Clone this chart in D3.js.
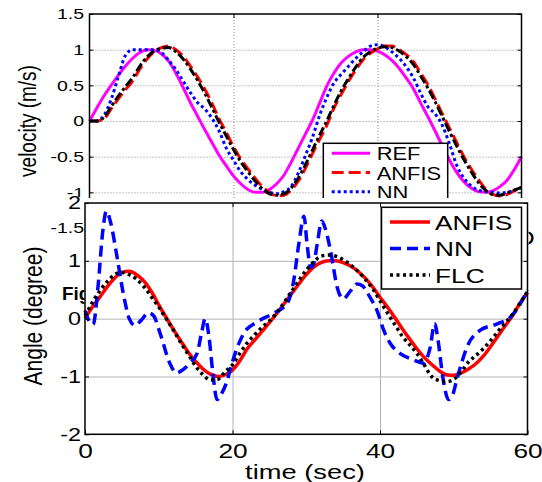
<!DOCTYPE html>
<html>
<head>
<meta charset="utf-8">
<script src="https://cdn.jsdelivr.net/npm/d3@7"></script>
<style>
  body { margin: 0; background: #fff; }
  svg { display: block; }
</style>
</head>
<body>
<div id="chart"></div>
<script>
// ---- data ----
const timeSec = [0,1,2,3,4,5,6,7,8,9,10,11,12,13,14,15,16,17,18,19,20,21,22,23,24,25,26,27,28,29,30,
  31,32,33,34,35,36,37,38,39,40,41,42,43,44,45,46,47,48,49,50,51,52,53,54,55,56,57,58,59,60];

// top panel: velocity (m/s)
const velRef = [0,0.18,0.35,0.5,0.64,0.77,0.88,0.96,1.0,0.99,0.94,0.84,0.67,0.47,0.26,0.07,-0.12,-0.3,-0.48,-0.63,-0.77,
  -0.88,-0.96,-1.0,-1.0,-0.96,-0.88,-0.76,-0.58,-0.38,-0.18,0.02,0.26,0.5,0.68,0.82,0.91,0.97,1.0,1.0,0.98,
  0.93,0.85,0.74,0.6,0.45,0.25,0.06,-0.14,-0.35,-0.55,-0.72,-0.85,-0.94,-0.99,-1.0,-0.98,-0.92,-0.83,-0.68,-0.5];
const velAnfis = [0,0,0.03,0.17,0.31,0.44,0.56,0.73,0.87,0.97,1.03,1.05,1.0,0.91,0.77,0.62,0.45,0.25,0.03,-0.16,-0.36,
  -0.53,-0.67,-0.8,-0.92,-1.0,-1.05,-1.04,-0.97,-0.84,-0.66,-0.45,-0.25,-0.05,0.19,0.38,0.56,0.72,0.86,0.95,1.01,
  1.05,1.05,1.0,0.93,0.83,0.67,0.51,0.31,0.1,-0.1,-0.3,-0.5,-0.67,-0.82,-0.95,-1.03,-1.05,-1.03,-0.98,-0.93];
const velNn = [0,0,0.08,0.3,0.62,0.92,1.0,1.0,1.0,1.0,0.96,0.85,0.72,0.56,0.4,0.26,0.17,0.04,-0.14,-0.38,-0.55,
  -0.71,-0.82,-0.9,-0.96,-1.0,-1.02,-0.99,-0.92,-0.73,-0.48,-0.22,0.09,0.34,0.54,0.66,0.77,0.88,0.97,1.05,1.07,
  1.04,0.97,0.88,0.76,0.6,0.39,0.2,0.1,-0.06,-0.32,-0.62,-0.8,-0.91,-0.97,-0.99,-1.0,-1.01,-1.0,-0.97,-0.93];
const velFlc = [0,0,0.05,0.2,0.35,0.48,0.61,0.77,0.9,0.98,1.02,1.03,0.97,0.87,0.73,0.57,0.39,0.19,-0.02,-0.21,-0.4,
  -0.57,-0.71,-0.84,-0.95,-1.02,-1.04,-1.02,-0.94,-0.8,-0.61,-0.4,-0.19,0.01,0.23,0.43,0.6,0.76,0.89,0.97,1.02,
  1.04,1.03,0.98,0.9,0.79,0.63,0.46,0.27,0.06,-0.15,-0.35,-0.54,-0.71,-0.86,-0.97,-1.03,-1.04,-1.01,-0.97,-0.93];

// bottom panel: angle (degree)
const angAnfis = [0,0.2,0.37,0.55,0.7,0.8,0.82,0.76,0.65,0.47,0.24,0.02,-0.19,-0.39,-0.58,-0.74,-0.87,-0.96,-1.0,-0.97,-0.89,
  -0.73,-0.52,-0.37,-0.22,-0.07,0.09,0.26,0.43,0.6,0.76,0.89,0.97,1.0,1.0,0.97,0.91,0.82,0.7,0.55,0.37,
  0.2,0.02,-0.17,-0.35,-0.52,-0.67,-0.79,-0.9,-0.97,-0.98,-0.94,-0.87,-0.78,-0.65,-0.48,-0.3,-0.12,0.06,0.27,0.45];
const angFlc = [0.05,0.28,0.48,0.64,0.76,0.8,0.76,0.68,0.55,0.38,0.2,0,-0.2,-0.42,-0.62,-0.82,-0.97,-1.06,-1.05,-0.92,-0.8,
  -0.6,-0.42,-0.28,-0.15,-0.04,0.1,0.28,0.47,0.66,0.84,0.98,1.08,1.1,1.08,1.02,0.93,0.82,0.68,0.52,0.31,
  0.1,-0.1,-0.3,-0.45,-0.6,-0.8,-1.0,-1.07,-1.09,-1.05,-0.92,-0.75,-0.64,-0.52,-0.38,-0.22,-0.07,0.08,0.27,0.47];
const nnTime = [0,0.6,1.1,1.8,2.4,2.9,3.5,4.3,5.2,6.0,6.8,7.6,8.6,9.3,10.2,11.5,12.4,13.3,14.2,15.2,
  15.8,16.3,16.8,17.3,17.9,18.5,19.2,19.8,20.5,21.5,23.3,25.5,27.4,28.3,29.0,29.7,30.1,30.6,31.0,31.5,
  32.1,32.6,33.3,34.2,35.0,36.0,36.9,37.6,38.6,39.6,40.5,41.4,42.7,44.5,45.9,46.8,47.4,47.9,48.5,49.3,
  49.9,50.4,51.1,51.8,53.6,55.9,57.7,59.0,60];
const angNn = [0.14,-0.05,-0.1,0.6,1.5,1.86,1.65,1.1,0.43,0,-0.12,-0.03,0.1,0.05,-0.26,-0.77,-0.94,-0.88,-0.77,-0.6,
  -0.25,0,-0.3,-0.9,-1.4,-1.3,-1.1,-0.83,-0.55,-0.26,-0.06,0.09,0.26,0.66,1.3,1.77,1.3,0.89,0.95,1.3,
  1.69,1.55,1.17,0.54,0.34,0.48,0.6,0.57,0.38,0.14,-0.2,-0.43,-0.6,-0.71,-0.77,-0.5,-0.09,-0.4,-1.0,-1.4,
  -1.3,-1.06,-0.75,-0.49,-0.2,-0.09,0.03,0.25,0.5];

const velTicks = [-1.5, -1, -0.5, 0, 0.5, 1, 1.5];
const velGrid = [-1, -0.5, 0, 0.5, 1];
const angTicks = [-2, -1, 0, 1, 2];
const angGrid = [-1, 0, 1];
const timeTicks = [0, 20, 40, 60];
const timeGrid = [20, 40];

const topLegend = ['REF', 'ANFIS', 'NN'];
const botLegend = ['ANFIS', 'NN', 'FLC'];

// ---- setup ----
const FONT = 'Arial, "Liberation Sans", sans-serif';
const W = 542, H = 482;

const svg = d3.select('#chart').append('svg')
  .attr('width', W)
  .attr('height', H);

// stretched text helper (figure text is wider than normal Arial)
function label(g, x, y, str, size, sx, opts = {}) {
  return g.append('text')
    .attr('transform', `translate(${x},${y}) scale(${sx},1)` + (opts.rotate ? ' rotate(-90)' : ''))
    .attr('font-family', FONT)
    .attr('font-size', size)
    .attr('font-weight', opts.bold ? 'bold' : 'normal')
    .attr('text-anchor', opts.anchor || 'start')
    .attr('fill', '#000')
    .text(str);
}

function pairs(xs, ys) {
  return xs.map((t, i) => [t, ys[i]]);
}

// ================= top panel =================
const xTop = d3.scaleLinear().domain([0, 60]).range([89.5, 521.5]);
const yTop = d3.scaleLinear().domain([-1.5, 1.5]).range([228, 14]);
const topW = xTop.range()[1] - xTop.range()[0];
const topH = yTop.range()[0] - yTop.range()[1];

const gTop = svg.append('g');

// gridlines (dotted)
gTop.append('g')
  .attr('transform', `translate(${xTop(0)},0)`)
  .call(d3.axisLeft(yTop).tickValues(velGrid).tickSize(-topW).tickFormat(''))
  .call(g => g.select('.domain').remove())
  .selectAll('line')
  .attr('stroke', '#8a8a8a').attr('stroke-width', 1).attr('stroke-dasharray', '1,2');

gTop.append('g')
  .attr('transform', `translate(0,${yTop(-1.5)})`)
  .call(d3.axisBottom(xTop).tickValues(timeGrid).tickSize(-topH).tickFormat(''))
  .call(g => g.select('.domain').remove())
  .selectAll('line')
  .attr('stroke', '#8a8a8a').attr('stroke-width', 1).attr('stroke-dasharray', '1,2');

const lineTop = d3.line()
  .x(d => xTop(d[0]))
  .y(d => yTop(d[1]))
  .curve(d3.curveMonotoneX);

const topSeries = [
  { values: velRef, color: '#ff00ff', dash: null, width: 3 },
  { values: velAnfis, color: '#ff0000', dash: '12,5', width: 3 },
  { values: velNn, color: '#0000ff', dash: '3,3', width: 3 },
  { values: velFlc, color: '#000000', dash: '9,3,3,3', width: 3 }
];

topSeries.forEach(s => {
  gTop.append('path')
    .datum(pairs(timeSec, s.values))
    .attr('fill', 'none')
    .attr('stroke', s.color)
    .attr('stroke-width', s.width)
    .attr('stroke-dasharray', s.dash)
    .attr('d', lineTop);
});

// box
gTop.append('rect')
  .attr('x', xTop(0)).attr('y', yTop(1.5))
  .attr('width', topW).attr('height', topH)
  .attr('fill', 'none').attr('stroke', '#000').attr('stroke-width', 1.5);

// axes
const topLeft = gTop.append('g')
  .attr('transform', `translate(${xTop(0)},0)`)
  .call(d3.axisLeft(yTop).tickValues(velTicks).tickSizeInner(-4).tickSizeOuter(0)
    .tickPadding(4.2).tickFormat(d => String(d)))
  .attr('font-family', FONT).attr('font-size', 15);
topLeft.select('.domain').remove();
topLeft.selectAll('.tick text').attr('transform', 'scale(1.3,1)');

gTop.append('g')
  .attr('transform', `translate(${xTop(60)},0)`)
  .call(d3.axisRight(yTop).tickValues(velTicks).tickSizeInner(-4).tickSizeOuter(0).tickFormat(''))
  .call(g => g.select('.domain').remove());

gTop.append('g')
  .attr('transform', `translate(0,${yTop(1.5)})`)
  .call(d3.axisTop(xTop).tickValues(timeGrid).tickSizeInner(-4).tickSizeOuter(0).tickFormat(''))
  .call(g => g.select('.domain').remove());

label(gTop, 36, 121, 'velocity (m/s)', 19, 1.25, { rotate: true, anchor: 'middle' });

// legend (lower part hidden by the second panel)
const topLeg = gTop.append('g');
topLeg.append('rect')
  .attr('x', 323.3).attr('y', 143.3).attr('width', 124.4).attr('height', 85)
  .attr('fill', '#fff').attr('stroke', '#000').attr('stroke-width', 1.5);
topLegend.forEach((name, i) => {
  const s = topSeries[i];
  const cy = 153.3 + i * 19.2;
  topLeg.append('line')
    .attr('x1', 331.7).attr('x2', 370).attr('y1', cy).attr('y2', cy)
    .attr('stroke', s.color).attr('stroke-width', s.width).attr('stroke-dasharray', s.dash);
  label(topLeg, 376.7, cy + 7, name, 19, 1.15);
});

// caption fragments showing through behind the second panel
label(svg, 62, 300, 'Fig', 18, 1.05, { bold: true });
label(svg, 516, 245, 'D', 20, 1.3);

// second panel sits over the first one
svg.append('rect')
  .attr('x', 84.5).attr('y', 198).attr('width', 444).attr('height', H - 198)
  .attr('fill', '#fff');
svg.append('rect')
  .attr('x', 40).attr('y', 197).attr('width', 45).attr('height', 14)
  .attr('fill', '#fff');

// ================= bottom panel =================
const xBot = d3.scaleLinear().domain([0, 60]).range([85, 527.5]);
const yBot = d3.scaleLinear().domain([-2, 2]).range([434.3, 203]);
const botW = xBot.range()[1] - xBot.range()[0];
const botH = yBot.range()[0] - yBot.range()[1];

const gBot = svg.append('g');

gBot.append('g')
  .attr('transform', `translate(${xBot(0)},0)`)
  .call(d3.axisLeft(yBot).tickValues(angGrid).tickSize(-botW).tickFormat(''))
  .call(g => g.select('.domain').remove())
  .selectAll('line')
  .attr('stroke', '#b4b4b4').attr('stroke-width', 1);

gBot.append('g')
  .attr('transform', `translate(0,${yBot(-2)})`)
  .call(d3.axisBottom(xBot).tickValues(timeGrid).tickSize(-botH).tickFormat(''))
  .call(g => g.select('.domain').remove())
  .selectAll('line')
  .attr('stroke', '#b4b4b4').attr('stroke-width', 1);

const lineBot = d3.line()
  .x(d => xBot(d[0]))
  .y(d => yBot(d[1]))
  .curve(d3.curveMonotoneX);

const botSeries = [
  { data: pairs(timeSec, angAnfis), color: '#ff0000', dash: null, width: 3.5 },
  { data: pairs(nnTime, angNn), color: '#0000ff', dash: '11,6', width: 3.5 },
  { data: pairs(timeSec, angFlc), color: '#000000', dash: '3,3.5', width: 3.5 }
];

botSeries.forEach(s => {
  gBot.append('path')
    .datum(s.data)
    .attr('fill', 'none')
    .attr('stroke', s.color)
    .attr('stroke-width', s.width)
    .attr('stroke-dasharray', s.dash)
    .attr('d', lineBot);
});

gBot.append('rect')
  .attr('x', xBot(0)).attr('y', yBot(2))
  .attr('width', botW).attr('height', botH)
  .attr('fill', 'none').attr('stroke', '#000').attr('stroke-width', 1.5);

const botLeft = gBot.append('g')
  .attr('transform', `translate(${xBot(0)},0)`)
  .call(d3.axisLeft(yBot).tickValues(angTicks).tickSizeInner(-4).tickSizeOuter(0)
    .tickPadding(3).tickFormat(d => String(d)))
  .attr('font-family', FONT).attr('font-size', 18);
botLeft.select('.domain').remove();
botLeft.selectAll('.tick text').attr('transform', 'scale(1.3,1)');

gBot.append('g')
  .attr('transform', `translate(${xBot(60)},0)`)
  .call(d3.axisRight(yBot).tickValues(angTicks).tickSizeInner(-4).tickSizeOuter(0).tickFormat(''))
  .call(g => g.select('.domain').remove());

gBot.append('g')
  .attr('transform', `translate(0,${yBot(2)})`)
  .call(d3.axisTop(xBot).tickValues(timeGrid).tickSizeInner(-4).tickSizeOuter(0).tickFormat(''))
  .call(g => g.select('.domain').remove());

const botAxis = gBot.append('g')
  .attr('transform', `translate(0,${yBot(-2)})`)
  .call(d3.axisBottom(xBot).tickValues(timeTicks).tickSizeInner(-4).tickSizeOuter(0)
    .tickPadding(8.5).tickFormat(d => String(d)))
  .attr('font-family', FONT).attr('font-size', 21);
botAxis.select('.domain').remove();
botAxis.selectAll('.tick text').attr('transform', 'scale(1.25,1)');

label(gBot, 305, 479, 'time (sec)', 21, 1.3, { anchor: 'middle' });
label(gBot, 42, 316, 'Angle (degree)', 21, 1.22, { rotate: true, anchor: 'middle' });

// legend
const botLeg = gBot.append('g');
botLeg.append('rect')
  .attr('x', 381.5).attr('y', 207.3).attr('width', 140).attr('height', 81.7)
  .attr('fill', '#fff').attr('stroke', '#000').attr('stroke-width', 1.5);
botLegend.forEach((name, i) => {
  const s = botSeries[i];
  const cy = 222 + i * 26.5;
  botLeg.append('line')
    .attr('x1', 390).attr('x2', 430).attr('y1', cy).attr('y2', cy)
    .attr('stroke', s.color).attr('stroke-width', s.width).attr('stroke-dasharray', s.dash);
  label(botLeg, 435, cy + 7.8, name, 21, 1.25);
});
</script>
</body>
</html>
